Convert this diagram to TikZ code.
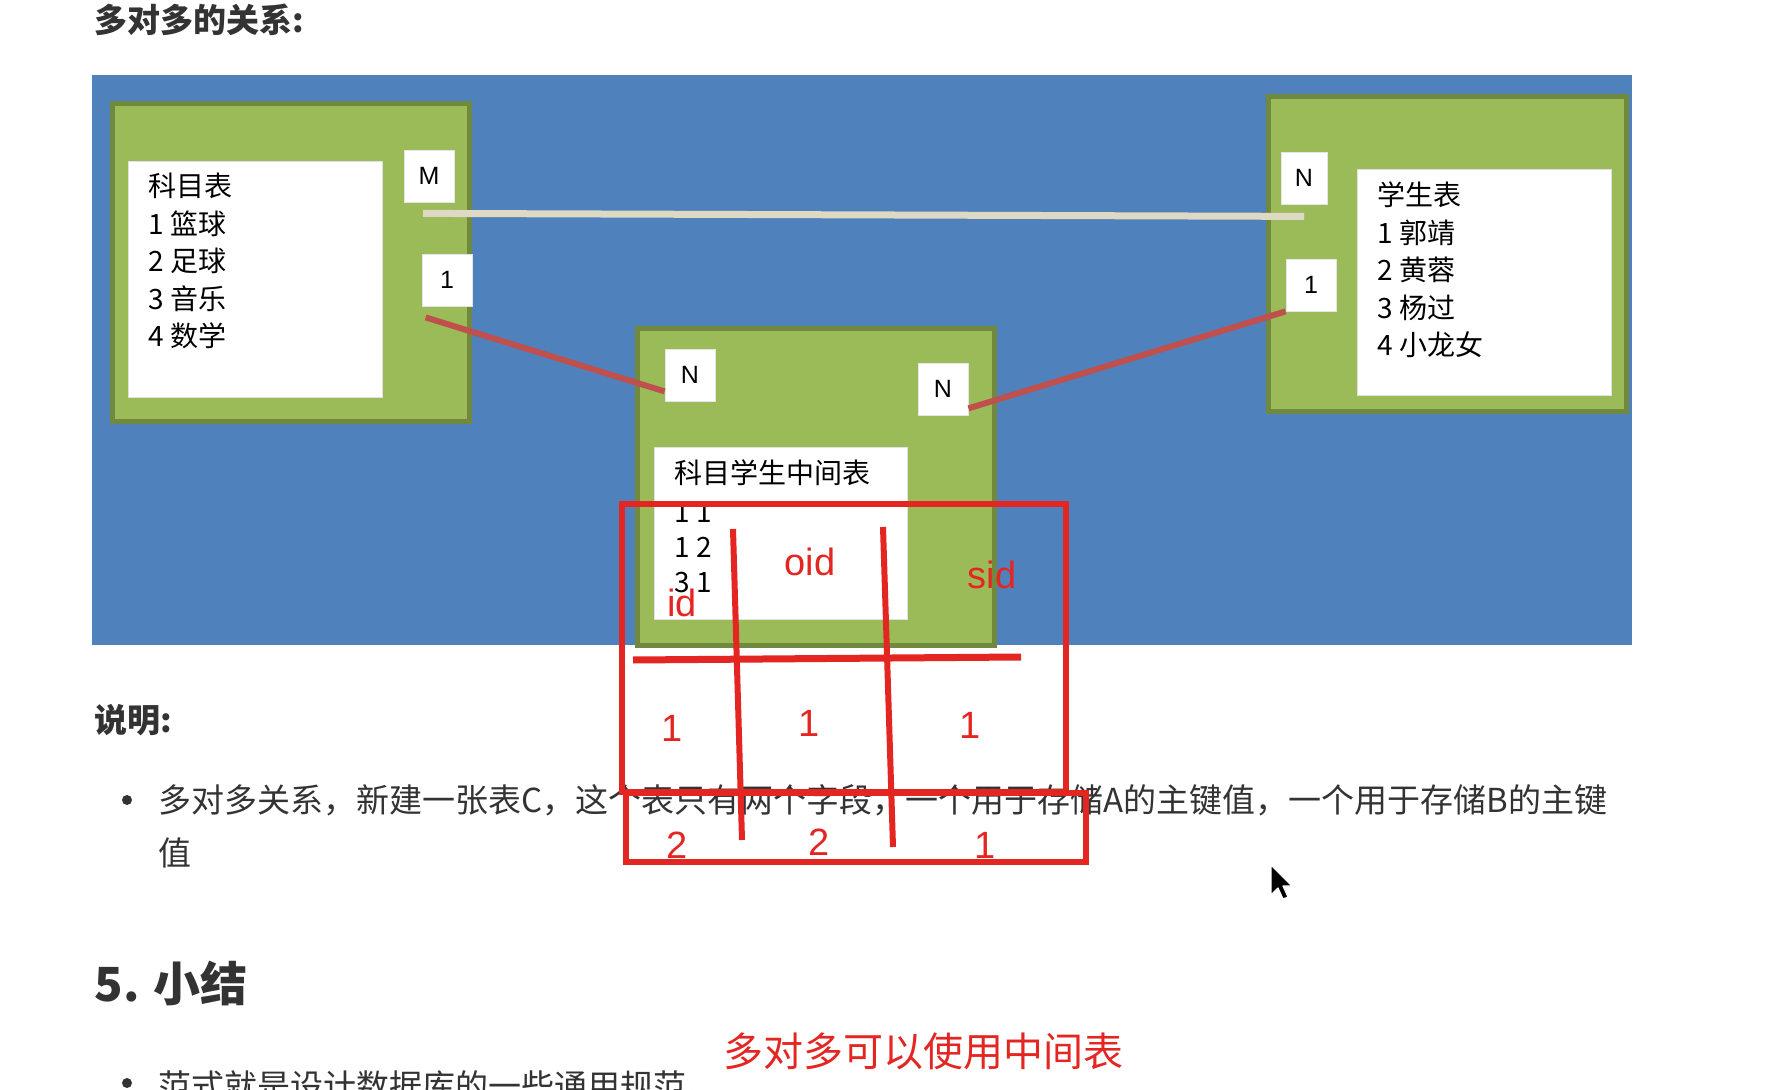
\documentclass[tikz,border=0pt]{standalone}
\usepackage{fontspec}
\setmainfont{Noto Sans CJK SC}
\newfontfamily\latinsans{Liberation Sans}
\usetikzlibrary{positioning}
\definecolor{pageblue}{RGB}{79,129,189}
\definecolor{tablegreen}{RGB}{155,187,89}
\definecolor{tableedge}{RGB}{113,137,63}
\definecolor{linkred}{RGB}{192,80,77}
\definecolor{linkgray}{RGB}{221,217,195}
\definecolor{markred}{RGB}{228,38,34}
\definecolor{bodytext}{RGB}{51,51,51}
\begin{document}
\begin{tikzpicture}[
        x = 0.5pt, y = -0.5pt,
        tablebox/.style = {fill = tablegreen, draw = tableedge, line width = 2.5pt, anchor = north west, inner sep = 0pt},
        sheet/.style = {fill = white, draw = black!12, line width = 0.6pt, anchor = north west, inner sep = 0pt},
        tag/.style = {fill = white, draw = black!10, line width = 0.4pt, minimum width = 25pt, minimum height = 26pt, inner sep = 0pt, font = \latinsans\fontsize{12.5}{14}\selectfont},
        rows/.style = {anchor = base west, align = left, inner sep = 0pt},
        redtext/.style = {text = markred, inner sep = 0pt, font = \latinsans\fontsize{19}{22}\selectfont},
        body/.style = {text = bodytext, anchor = west, inner sep = 0pt, font = \fontsize{16.5}{20}\selectfont},
        dot/.style = {circle, fill = bodytext, inner sep = 0pt, minimum size = 5pt},
        pen/.style = {draw = markred, line width = 3pt}
    ]
        \fill[white] (0,0) rectangle (1792,1090);
        \useasboundingbox (0,0) rectangle (1792,1090);

        \node[body, font = \bfseries\fontsize{16.5}{20}\selectfont] (heading) at (94,20) {多对多的关系:};
        \fill[pageblue] (92,75) rectangle (1632,645);

        % subject table
        \node[tablebox, minimum width = 178.5pt, minimum height = 159pt] (subjects) at (110,101) {};
        \node[sheet, minimum width = 127pt, minimum height = 118pt] (subjectsheet) at (128,161) {};
        \node[rows, font = \fontsize{14}{18.75}\selectfont] (subjectrows) at (148,347) {科目表\\1 篮球\\2 足球\\3 音乐\\4 数学};

        % link table
        \node[tablebox, minimum width = 178.5pt, minimum height = 158.5pt] (linktable) at (635,326) {};
        \node[sheet, minimum width = 126.5pt, minimum height = 86pt] (linksheet) at (654,447) {};
        \node[rows, font = \fontsize{14}{17.5}\selectfont] (linkrows) at (674,592) {科目学生中间表\\[2pt]1 1\\1 2\\3 1};

        % student table
        \node[tablebox, minimum width = 179pt, minimum height = 157.5pt] (students) at (1266,94) {};
        \node[sheet, minimum width = 127pt, minimum height = 113pt] (studentsheet) at (1357,169) {};
        \node[rows, font = \fontsize{14}{18.75}\selectfont] (studentrows) at (1377,356) {学生表\\1 郭靖\\2 黄蓉\\3 杨过\\4 小龙女};

        \node[tag] (subjM) at (429,176) {M};
        \node[tag] (subj1) at (447,280) {1};
        \node[tag] (linkN1) at (690,375) {N};
        \node[tag] (linkN2) at (943,389) {N};
        \node[tag, minimum width = 23pt] (stuN) at (1304,178) {N};
        \node[tag] (stu1) at (1311,285) {1};

        \draw[linkgray, line width = 3.5pt] ([xshift = -3pt, yshift = -5.5pt]subjM.south) -- ([yshift = -6pt]stuN.south);
        \draw[linkred, line width = 3pt] ([xshift = 2pt, yshift = -5.5pt]subj1.south west) -- ([yshift = 5pt]linkN1.south west);
        \draw[linkred, line width = 3pt] ([yshift = 3.5pt]linkN2.south east) -- (stu1.south west);

        % text below
        \node[body, font = \bfseries\fontsize{16.5}{20}\selectfont] (notes) at (94,720) {说明:};
        \node[dot] (bullet1) at (127,800) {};
        \node[body] (point) at (158,800) {多对多关系，新建一张表C，这个表只有两个字段，一个用于存储A的主键值，一个用于存储B的主键};
        \node[body] (pointrest) at (158,853) {值};
        \node[body, font = \bfseries\fontsize{23.5}{28}\selectfont] (summary) at (94,983) {5. 小结};
        \node[dot] (bullet2) at (127,1083) {};
        \node[body] (rule) at (158,1086) {范式就是设计数据库的一些通用规范。};

        % red marks
        \draw[pen] (622,504) rectangle (1066,792);
        \draw[pen] (626,793) rectangle (1086,862);
        \draw[pen, line width = 3.5pt] (633,660) -- (1021,657);
        \draw[pen] (733,529) -- (742,840);
        \draw[pen] (883,527) -- (893,847);
        \node[redtext] (colid) at (682,603) {id};
        \node[redtext] (coloid) at (810,562) {oid};
        \node[redtext] (colsid) at (992,575) {sid};
        \node[redtext] (r1a) at (672,728) {1};
        \node[redtext] (r1b) at (809,723) {1};
        \node[redtext] (r1c) at (970,725) {1};
        \node[redtext] (r2a) at (677,845) {2};
        \node[redtext] (r2b) at (819,842) {2};
        \node[redtext] (r2c) at (985,845) {1};
        \node[redtext, anchor = west, font = \fontsize{20}{24}\selectfont] (remark) at (723,1051) {多对多可以使用中间表};

        % pointer
        \draw[fill = black, draw = white, line width = 0.6pt, line join = round] (1271,865) -- ++(0,30) -- ++(7,-7) -- ++(5,11) -- ++(5,-2) -- ++(-5,-11) -- ++(9,0) -- cycle;
    \end{tikzpicture}
\end{document}
